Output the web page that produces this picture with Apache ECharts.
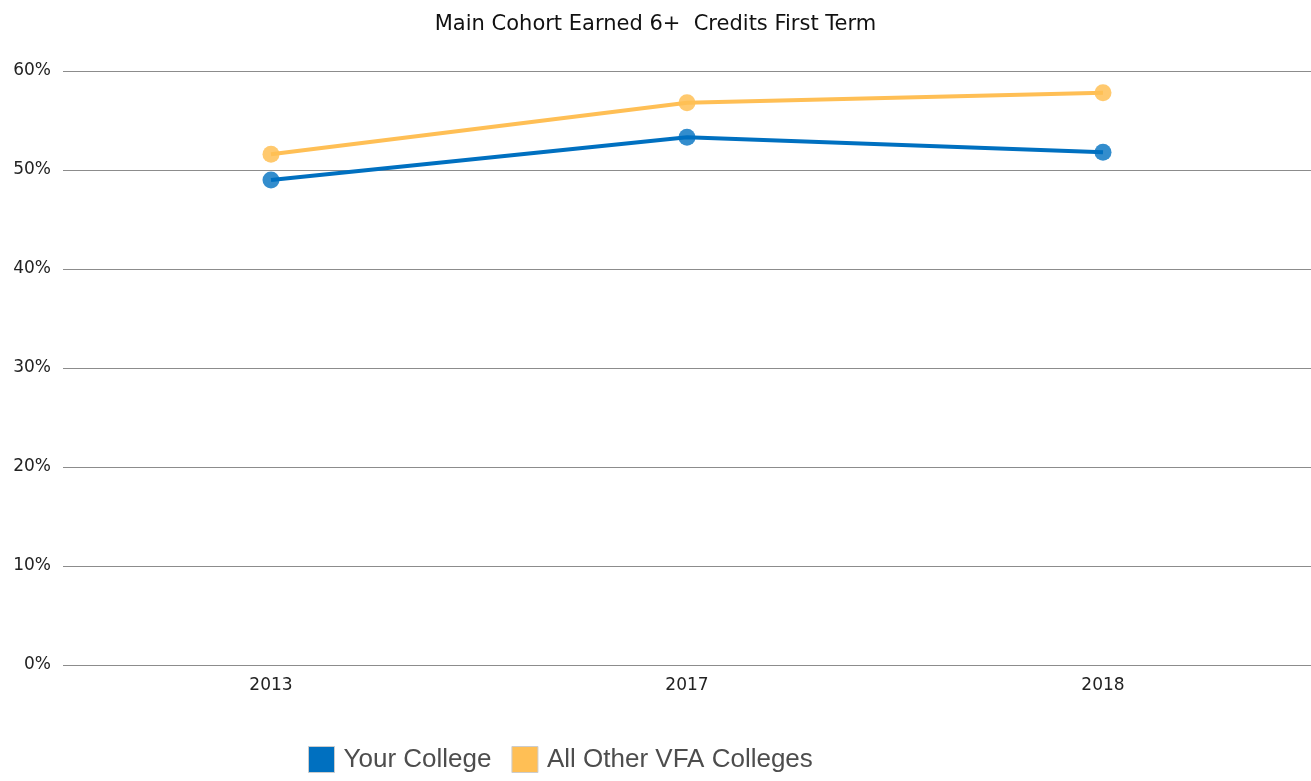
<!DOCTYPE html>
<html>
<head>
<meta charset="utf-8">
<script src="https://cdn.jsdelivr.net/npm/echarts@6/dist/echarts.min.js"></script>
<style>
html,body{margin:0;padding:0;background:#fff;}
#chart{width:1311px;height:781px;}
</style>
</head>
<body>
<div id="chart"></div>
<script>
// data
const years = ['2013', '2017', '2018'];
const yourCollege = [49.0, 53.3, 51.8];
const otherColleges = [51.6, 56.8, 57.8];
const seriesNames = ['Your College', 'All Other VFA Colleges'];
const seriesColors = ['#0070c0', '#ffbf55'];

const myChart = echarts.init(document.getElementById('chart'));

const lineSeries = (name, data, lineColor, dotColor) => ({
    name: name,
    type: 'line',
    data: data,
    color: lineColor,
    symbol: 'circle',
    symbolSize: 17,
    lineStyle: {color: lineColor, width: 4},
    itemStyle: {color: dotColor},
    z: 3
});

myChart.setOption({
    animation: false,
    title: {
        text: 'Main Cohort Earned 6+  Credits First Term',
        left: 'center',
        top: 9,
        textStyle: {fontFamily: 'DejaVu Sans', fontSize: 21, fontWeight: 'normal', color: '#111'}
    },
    legend: {
        bottom: 3,
        left: 303,
        itemWidth: 26,
        itemHeight: 26,
        itemGap: 20,
        icon: 'rect',
        data: seriesNames.map((n, i) => ({
            name: n,
            itemStyle: {color: seriesColors[i], borderColor: '#ccc', borderWidth: 1}
        })),
        textStyle: {fontFamily: 'Liberation Sans', fontSize: 26, color: '#4d4d4d', padding: [0, 0, 0, 4]}
    },
    grid: {left: 63, right: 0, top: 71, bottom: 116},
    xAxis: {
        type: 'category',
        data: years,
        boundaryGap: true,
        axisLine: {show: false},
        axisTick: {show: false},
        axisLabel: {fontFamily: 'DejaVu Sans', fontSize: 17, color: '#222', margin: 12}
    },
    yAxis: {
        type: 'value',
        min: 0,
        max: 60,
        interval: 10,
        axisLine: {show: false},
        axisTick: {show: false},
        splitLine: {lineStyle: {color: '#8c8c8c', width: 1}},
        axisLabel: {formatter: '{value}%', fontFamily: 'DejaVu Sans', fontSize: 17, color: '#222', margin: 12}
    },
    series: [
        lineSeries(seriesNames[0], yourCollege, seriesColors[0], 'rgba(0,112,192,0.8)'),
        lineSeries(seriesNames[1], otherColleges, seriesColors[1], 'rgba(255,191,85,0.85)')
    ]
});
</script>
</body>
</html>
